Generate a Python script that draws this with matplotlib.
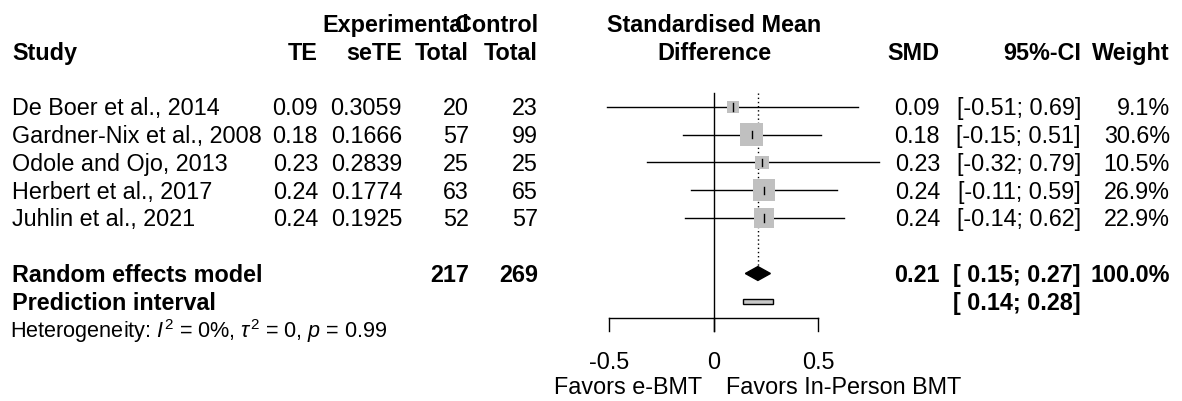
import matplotlib
matplotlib.use("Agg")
from matplotlib import pyplot as plt
from matplotlib.patches import Rectangle, Polygon
import numpy as np

plt.rcParams['font.family'] = ['Liberation Sans', 'DejaVu Sans']
plt.rcParams['mathtext.fontset'] = 'custom'
plt.rcParams['mathtext.rm'] = 'Liberation Sans'
plt.rcParams['mathtext.it'] = 'Liberation Sans:italic'

studies = ["De Boer et al., 2014", "Gardner-Nix et al., 2008", "Odole and Ojo, 2013",
           "Herbert et al., 2017", "Juhlin et al., 2021"]
te = [0.09, 0.18, 0.23, 0.24, 0.24]
sete = [0.3059, 0.1666, 0.2839, 0.1774, 0.1925]
n_exp = [20, 57, 25, 63, 52]
n_ctl = [23, 99, 25, 65, 57]
ci_lo = [-0.51, -0.15, -0.32, -0.11, -0.14]
ci_hi = [0.69, 0.51, 0.79, 0.59, 0.62]
weight = [9.1, 30.6, 10.5, 26.9, 22.9]

pooled = 0.21
pooled_lo, pooled_hi = 0.15, 0.27
pred_lo, pred_hi = 0.14, 0.28
tot_exp, tot_ctl = 217, 269
xticks = [-0.5, 0, 0.5]

W, H = 1182, 401
fig = plt.figure(figsize=(W / 100, H / 100), dpi=100)
ax = fig.add_axes([0, 0, 1, 1])
# x: 0 at pixel 714, 1 unit = 209 px ; y: row r at pixel 107 + 27.75 r
x0, xs = 714, 209
y0, ys = 107, 27.75
ax.set_xlim(-x0 / xs, (W - x0) / xs)
ax.set_ylim((H - y0) / ys, -y0 / ys)
ax.axis('off')

tr = ax.get_yaxis_transform()
def px(x):
    return x / W

fs = 16.8
hfs = 15.6
dy = 0.07  # small nudge so text sits on the row like the original

def txt(x, row, s, ha='right', bold=False, size=fs):
    ax.text(px(x), row + dy, s, ha=ha, va='center', transform=tr, fontsize=size,
            fontweight='bold' if bold else 'normal', color='black')

# headers
txt(469, -3, "Experimental", bold=True)
txt(538, -3, "Control", bold=True)
txt(12, -2, "Study", ha='left', bold=True)
txt(318, -2, "TE", bold=True)
txt(402, -2, "seTE", bold=True)
txt(469, -2, "Total", bold=True)
txt(538, -2, "Total", bold=True)
txt(714, -3, "Standardised Mean", ha='center', bold=True)
txt(714, -2, "Difference", ha='center', bold=True)
txt(940, -2, "SMD", bold=True)
txt(1081, -2, "95%-CI", bold=True)
txt(1170, -2, "Weight", bold=True)

for i, name in enumerate(studies):
    txt(12, i, name, ha='left')
    txt(318, i, "%.2f" % te[i])
    txt(402, i, "%.4f" % sete[i])
    txt(469, i, str(n_exp[i]))
    txt(538, i, str(n_ctl[i]))
    txt(940, i, "%.2f" % te[i])
    txt(1081, i, "[%.2f; %.2f]" % (ci_lo[i], ci_hi[i]))
    txt(1170, i, "%.1f%%" % weight[i])

    # forest marks
    ax.plot([ci_lo[i], ci_hi[i]], [i, i], color='black', lw=1, zorder=2)
    side = 4.17 * np.sqrt(weight[i])
    w_d, h_d = side / xs, side / ys
    ax.add_patch(Rectangle((te[i] - w_d / 2, i - h_d / 2), w_d, h_d,
                           facecolor='#c0c0c0', edgecolor='none', zorder=3))
    ax.plot([te[i], te[i]], [i - 0.13, i + 0.13], color='black', lw=1, zorder=4)

r_re, r_pi, r_het = 6, 7, 8
txt(12, r_re, "Random effects model", ha='left', bold=True)
txt(469, r_re, str(tot_exp), bold=True)
txt(538, r_re, str(tot_ctl), bold=True)
txt(940, r_re, "%.2f" % pooled, bold=True)
txt(1081, r_re, "[ %.2f; %.2f]" % (pooled_lo, pooled_hi), bold=True)
txt(1170, r_re, "100.0%", bold=True)
txt(12, r_pi, "Prediction interval", ha='left', bold=True)
txt(1081, r_pi, "[ %.2f; %.2f]" % (pred_lo, pred_hi), bold=True)
txt(10, r_het, r"Heterogeneity: $I^2$ = 0%, $\tau^2$ = 0, $p$ = 0.99", ha='left', size=hfs)

# diamond and prediction bar
dh = 0.25
ax.add_patch(Polygon([[pooled_lo, r_re], [pooled, r_re - dh], [pooled_hi, r_re],
                      [pooled, r_re + dh]], closed=True, facecolor='black',
                     edgecolor='black', lw=1, zorder=3))
ph = 0.09
ax.add_patch(Rectangle((pred_lo, r_pi - ph), pred_hi - pred_lo, 2 * ph,
                       facecolor='#c8c8c8', edgecolor='black', lw=1, zorder=3))

# reference lines
axis_row = 7.6
tick_row = 8.07
ax.plot([0, 0], [-0.5, tick_row], color='black', lw=1, zorder=1)
ax.plot([pooled, pooled], [-0.5, r_re - dh], color='black', lw=1,
        linestyle=(0, (1, 2)), zorder=1)

# x axis
ax.plot([xticks[0], xticks[-1]], [axis_row, axis_row], color='black', lw=1)
for t in xticks:
    ax.plot([t, t], [axis_row, tick_row], color='black', lw=1)
    ax.text(t, 9.2, "%g" % t, ha='center', va='center', fontsize=fs)
ax.text(-0.057, 10.1, "Favors e-BMT", ha='right', va='center', fontsize=fs)
ax.text(0.057, 10.1, "Favors In-Person BMT", ha='left', va='center', fontsize=fs)

fig.savefig("out.png", dpi=100, facecolor='white')
